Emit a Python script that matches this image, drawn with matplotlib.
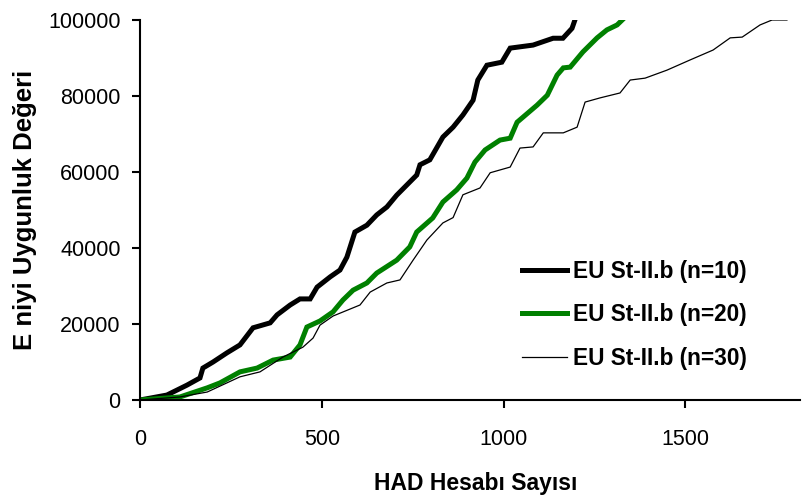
import matplotlib.pyplot as plt

# EU St-II.b (n=10)
x10 = [0, 74, 91, 129, 165, 173, 201, 239, 275, 311, 358, 377, 413, 440, 468, 487, 523, 550, 569,
       591, 624, 651, 679, 706, 734, 761, 770, 797, 833, 861, 888, 916, 929, 954, 995, 1018, 1081,
       1136, 1163, 1188, 1196]
y10 = [0, 1300, 2100, 3900, 5800, 8400, 10000, 12400, 14500, 19000, 20300, 22400, 25000, 26600,
       26600, 29700, 32400, 34200, 37600, 44200, 46000, 48700, 50800, 53900, 56600, 59200, 61900,
       63200, 69200, 71800, 75000, 78900, 84200, 88100, 88900, 92600, 93400, 95200, 95200, 97800,
       100000]

# EU St-II.b (n=20)
x20 = [0, 110, 185, 220, 275, 322, 366, 413, 440, 459, 495, 531, 558, 586, 624, 651, 706, 742,
       761, 805, 833, 871, 899, 921, 949, 990, 1018, 1037, 1092, 1120, 1147, 1164, 1183, 1218,
       1257, 1284, 1312, 1326]
y20 = [0, 800, 3200, 4500, 7400, 8400, 10500, 11300, 14500, 19200, 20800, 23200, 26300, 28900,
       30800, 33400, 36800, 40300, 44200, 47900, 52100, 55300, 58400, 62600, 65800, 68400, 68900,
       73100, 77600, 80200, 85500, 87400, 87600, 91600, 95300, 97400, 98700, 100000]

# EU St-II.b (n=30)
x30 = [0, 110, 185, 275, 330, 393, 448, 476, 495, 531, 605, 633, 679, 715, 751, 789, 833, 861,
       888, 935, 963, 1018, 1045, 1081, 1109, 1164, 1202, 1224, 1265, 1320, 1348, 1389, 1449,
       1513, 1576, 1623, 1656, 1705, 1738, 1779]
y30 = [0, 800, 2100, 6100, 7400, 11300, 13900, 16300, 19700, 22100, 25000, 28400, 30800, 31600,
       36800, 42100, 46600, 48000, 54000, 55800, 59800, 61300, 66300, 66600, 70300, 70300, 71800,
       78400, 79500, 80800, 84200, 84700, 86800, 89500, 92100, 95300, 95500, 98700, 100000, 100000]

labels = ['EU St-II.b (n=10)', 'EU St-II.b (n=20)', 'EU St-II.b (n=30)']

plt.rcParams['font.family'] = ['Liberation Sans', 'DejaVu Sans']

fig = plt.figure(figsize=(8.03, 5.0), dpi=100)
ax = fig.add_axes([0.1743, 0.2, 0.822, 0.76])

ax.plot(x10, y10, color='black', lw=3.6, label=labels[0], solid_joinstyle='miter')
ax.plot(x20, y20, color='#008000', lw=3.6, label=labels[1], solid_joinstyle='miter')
ax.plot(x30, y30, color='black', lw=0.9, label=labels[2])

ax.set_xlim(0, 1815)
ax.set_ylim(0, 100000)
ax.set_xticks([0, 500, 1000, 1500])
ax.set_yticks([0, 20000, 40000, 60000, 80000, 100000])
ax.ticklabel_format(style='plain', axis='y')

for s in ['top', 'right']:
    ax.spines[s].set_visible(False)
for s in ['left', 'bottom']:
    ax.spines[s].set_linewidth(1.5)

ax.tick_params(axis='x', direction='out', length=6, width=1.5, pad=15, labelsize=15.5)
ax.tick_params(axis='y', direction='out', length=6, width=1.5, pad=8, labelsize=15.5)

ax.set_xlabel('HAD Hesabı Sayısı', fontsize=16.5, fontweight='bold')
ax.xaxis.set_label_coords(0.508, -0.19)
ax.set_ylabel('E niyi Uygunluk Değeri', fontsize=18.5, fontweight='bold', labelpad=8)

ax.legend(loc='upper left', bbox_to_anchor=(0.650, 0.480), bbox_transform=fig.transFigure,
          frameon=False, prop={'weight': 'bold', 'size': 16.3},
          handlelength=2.0, handletextpad=0.25, labelspacing=0.9,
          borderpad=0, borderaxespad=0)

fig.savefig('out.png', dpi=100)
